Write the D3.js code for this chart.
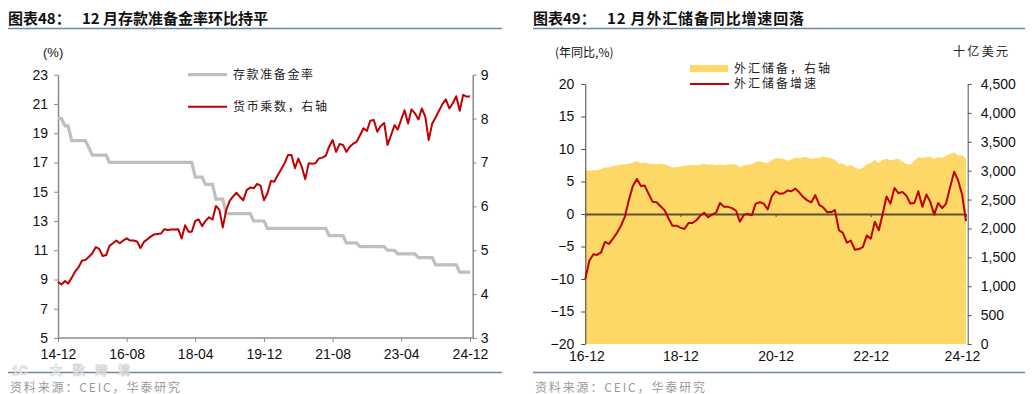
<!DOCTYPE html>
<html>
<head>
<meta charset="utf-8">
<script src="https://cdn.jsdelivr.net/npm/d3@7"></script>
<style>
  body { margin: 0; background: #fff; }
  svg { display: block; }
  text { font-family: "Liberation Sans", Arial, sans-serif; }
  .cn { font-family: "Noto Sans CJK SC", sans-serif; }
</style>
</head>
<body>
<svg id="chart" width="1032" height="394"></svg>
<script>
// ---- chart 48: RRR vs money multiplier, monthly 14-12 .. 24-12
var rrrTicks = ["14-12", "16-08", "18-04", "19-12", "21-08", "23-04", "24-12"];
var rrrLeftTicks = [5, 7, 9, 11, 13, 15, 17, 19, 21, 23];
var rrrRightTicks = [3, 4, 5, 6, 7, 8, 9];

// reserve requirement ratio (%)
var rrr = [20,
  20, 19.5, 19.5, 18.5, 18.5, 18.5, 18.5, 18.5, 18, 17.5, 17.5, 17.5,
  17.5, 17.5, 17, 17, 17, 17, 17, 17, 17, 17, 17, 17,
  17, 17, 17, 17, 17, 17, 17, 17, 17, 17, 17, 17,
  17, 17, 17, 16, 16, 16, 15.5, 15.5, 15.5, 14.5, 14.5, 14.5,
  13.5, 13.5, 13.5, 13.5, 13.5, 13.5, 13.5, 13.5, 13, 13, 13, 13,
  12.5, 12.5, 12.5, 12.5, 12.5, 12.5, 12.5, 12.5, 12.5, 12.5, 12.5, 12.5,
  12.5, 12.5, 12.5, 12.5, 12.5, 12.5, 12, 12, 12, 12, 12, 11.5,
  11.5, 11.5, 11.5, 11.25, 11.25, 11.25, 11.25, 11.25, 11.25, 11.25, 11.25, 11,
  11, 11, 10.75, 10.75, 10.75, 10.75, 10.75, 10.75, 10.5, 10.5, 10.5, 10.5,
  10.5, 10, 10, 10, 10, 10, 10, 10, 9.5, 9.5, 9.5, 9.5];

// money multiplier (right axis)
var multiplier = [4.28,
  4.22, 4.30, 4.24, 4.37, 4.51, 4.61, 4.76, 4.78, 4.85, 4.93, 5.07, 5.03,
  4.87, 4.89, 5.10, 5.16, 5.22, 5.16, 5.22, 5.27, 5.22, 5.22, 5.20, 5.05,
  5.19, 5.25, 5.31, 5.36, 5.37, 5.38, 5.48, 5.46, 5.47, 5.47, 5.48, 5.27,
  5.57, 5.42, 5.42, 5.67, 5.70, 5.55, 5.67, 5.75, 5.70, 6.01, 5.92, 5.52,
  5.92, 6.13, 6.22, 6.31, 6.22, 6.14, 6.37, 6.43, 6.41, 6.51, 6.47, 6.14,
  6.30, 6.58, 6.56, 6.71, 6.84, 6.98, 7.17, 7.17, 6.87, 7.09, 6.90, 6.62,
  6.98, 6.97, 6.98, 7.09, 7.11, 7.15, 7.36, 7.51, 7.24, 7.42, 7.40, 7.24,
  7.36, 7.43, 7.47, 7.62, 7.78, 7.72, 7.95, 7.97, 7.70, 7.83, 7.90, 7.40,
  7.62, 7.85, 7.75, 7.98, 8.19, 7.89, 8.21, 8.12, 7.98, 8.23, 8.04, 7.51,
  7.89, 8.03, 8.18, 8.33, 8.44, 8.23, 8.35, 8.51, 8.18, 8.54, 8.50, 8.51];

// ---- chart 49: FX reserves, monthly 16-12 .. 24-12
var fxTicks = ["16-12", "18-12", "20-12", "22-12", "24-12"];
var fxLeftTicks = [-20, -15, -10, -5, 0, 5, 10, 15, 20];
var fxRightTicks = [0, 500, 1000, 1500, 2000, 2500, 3000, 3500, 4000, 4500];

// FX reserves, billion USD (right axis)
var fxReserve = [3010.5,
  2998.2, 3005.1, 3009.1, 3029.5, 3053.6, 3056.8, 3080.7, 3091.5, 3108.5, 3109.2, 3119.3, 3139.9,
  3161.5, 3134.5, 3142.8, 3124.9, 3110.6, 3112.1, 3117.9, 3109.7, 3087.0, 3053.1, 3061.7, 3072.7,
  3087.9, 3090.2, 3098.8, 3094.9, 3101.0, 3119.2, 3103.7, 3107.2, 3092.4, 3105.2, 3095.6, 3107.9,
  3115.5, 3106.7, 3060.6, 3091.5, 3101.7, 3112.3, 3154.4, 3164.6, 3142.6, 3128.0, 3178.5, 3216.5,
  3210.7, 3205.0, 3170.0, 3198.2, 3221.8, 3214.0, 3235.9, 3232.1, 3200.6, 3217.6, 3222.4, 3250.2,
  3221.6, 3213.8, 3188.0, 3119.7, 3127.8, 3071.3, 3104.1, 3054.9, 3029.0, 3052.4, 3117.5, 3127.7,
  3184.5, 3133.2, 3183.9, 3204.8, 3176.5, 3193.0, 3204.3, 3160.1, 3115.1, 3101.2, 3171.8, 3238.0,
  3219.3, 3225.8, 3245.7, 3200.8, 3232.0, 3222.4, 3256.4, 3288.2, 3316.4, 3261.0, 3265.9, 3202.4];

// FX reserves yoy (%)
var fxGrowth = [-10.0,
  -7.2, -6.2, -6.3, -5.9, -4.3, -4.6, -3.8, -2.9, -1.8, -0.4, 2.2, 4.3,
  5.4, 4.3, 4.4, 3.1, 1.9, 1.8, 1.2, 0.6, -0.7, -1.8, -1.8, -2.1,
  -2.3, -1.4, -1.4, -1.0, -0.3, 0.2, -0.5, -0.1, 0.2, 1.7, 1.1, 1.1,
  0.9, 0.5, -1.2, -0.1, 0.0, -0.2, 1.6, 1.8, 1.6, 0.7, 2.7, 3.5,
  3.1, 3.2, 3.6, 3.5, 3.9, 3.3, 2.6, 2.1, 1.8, 2.9, 1.4, 1.0,
  0.3, 0.3, 0.6, -2.5, -2.9, -4.4, -4.1, -5.5, -5.4, -5.1, -3.3, -3.8,
  -1.2, -2.5, -0.1, 2.7, 1.6, 4.0, 3.2, 3.4, 2.8, 1.6, 1.7, 3.5,
  1.1, 3.0, 1.9, -0.1, 1.7, 0.9, 1.6, 4.1, 6.5, 5.2, 3.0, -1.1];

var parseMonth = d3.timeParse("%y-%m");
var fmtMonth = d3.timeFormat("%y-%m");

var svg = d3.select("#chart");
svg.append("rect").attr("width", 1032).attr("height", 394).attr("fill", "#fff");

// header / footer frame for one panel
function frame(x0, x1, titleA, titleB, titleLen) {
  svg.append("text").attr("class", "cn")
    .attr("x", x0).attr("y", 24)
    .style("font-size", "15px").style("font-weight", "bold").attr("fill", "#111")
    .text(titleA);
  svg.append("text").attr("class", "cn")
    .attr("x", x0 + 74).attr("y", 24)
    .attr("textLength", titleLen).attr("lengthAdjust", "spacing")
    .style("font-size", "15px").style("font-weight", "bold").attr("fill", "#111")
    .text(titleB);
  svg.append("line").attr("x1", x0).attr("x2", x1).attr("y1", 28.5).attr("y2", 28.5)
    .attr("stroke", "#6e88a6").attr("stroke-width", 1.3);
  svg.append("line").attr("x1", x0).attr("x2", x1).attr("y1", 372.5).attr("y2", 372.5)
    .attr("stroke", "#6e88a6").attr("stroke-width", 1.3);
  svg.append("text").attr("class", "cn")
    .attr("x", x0 + 2).attr("y", 392)
    .attr("textLength", 170).attr("lengthAdjust", "spacing")
    .style("font-size", "12px").attr("fill", "#9a9a9a")
    .text("资料来源：CEIC，华泰研究");
}

function styleAxis(g, color, size) {
  g.selectAll("path,line").attr("stroke", color);
  g.selectAll("text").attr("fill", "#111").style("font-size", size || "14px")
    .style("font-family", "'Liberation Sans', Arial, sans-serif");
}

// =================== chart 48 ===================
frame(8, 502, "图表48：", "12 月存款准备金率环比持平", 186);

var dates1 = d3.timeMonth.range(new Date(2014, 11, 1), new Date(2025, 0, 1));
var x1 = d3.scaleTime().domain([dates1[0], dates1[dates1.length - 1]]).range([58, 470]);
var yL1 = d3.scaleLinear().domain([5, 23]).range([338, 74.7]);
var yR1 = d3.scaleLinear().domain([3, 9]).range([338, 74.7]);
var axisGray = "#8a8a8a";

var gl = svg.append("g").attr("transform", "translate(58,0)")
  .call(d3.axisLeft(yL1).tickValues(rrrLeftTicks).tickSize(4).tickSizeOuter(0).tickPadding(6));
styleAxis(gl, axisGray);
gl.select(".domain").attr("stroke-width", 1.5);

var gr = svg.append("g").attr("transform", "translate(472.7,0)")
  .call(d3.axisRight(yR1).tickValues(rrrRightTicks).tickFormat(d3.format("d"))
    .tickSize(4).tickSizeOuter(0).tickPadding(4));
styleAxis(gr, axisGray);
gr.select(".domain").attr("stroke-width", 1.5);

var gb = svg.append("g").attr("transform", "translate(0,338)")
  .call(d3.axisBottom(x1).tickValues(rrrTicks.map(parseMonth)).tickFormat(fmtMonth)
    .tickSize(4).tickSizeOuter(0).tickPadding(7));
styleAxis(gb, axisGray);
gb.select(".domain").remove();
svg.append("line").attr("x1", 58).attr("x2", 472.7).attr("y1", 338).attr("y2", 338)
  .attr("stroke", axisGray).attr("stroke-width", 1.5);

svg.append("text").attr("x", 43).attr("y", 57).style("font-size", "13px").attr("fill", "#111").text("(%)");

svg.append("path").datum(rrr)
  .attr("fill", "none").attr("stroke", "#bfbfbf").attr("stroke-width", 3.2)
  .attr("d", d3.line().x(function(d, i) { return x1(dates1[i]); }).y(function(d) { return yL1(d); }));

svg.append("path").datum(multiplier)
  .attr("fill", "none").attr("stroke", "#c00000").attr("stroke-width", 2)
  .attr("stroke-linejoin", "round")
  .attr("d", d3.line().x(function(d, i) { return x1(dates1[i]); }).y(function(d) { return yR1(d); }));

// legend
svg.append("line").attr("x1", 188).attr("x2", 227).attr("y1", 74.7).attr("y2", 74.7)
  .attr("stroke", "#bfbfbf").attr("stroke-width", 3.2);
svg.append("text").attr("class", "cn").attr("x", 233).attr("y", 79)
  .attr("textLength", 80).attr("lengthAdjust", "spacing")
  .style("font-size", "12px").attr("fill", "#222").text("存款准备金率");
svg.append("line").attr("x1", 188).attr("x2", 227).attr("y1", 106.7).attr("y2", 106.7)
  .attr("stroke", "#c00000").attr("stroke-width", 2);
svg.append("text").attr("class", "cn").attr("x", 233).attr("y", 111)
  .attr("textLength", 94).attr("lengthAdjust", "spacing")
  .style("font-size", "12px").attr("fill", "#222").text("货币乘数，右轴");

// watermark, squeezed between the month labels and the source line
svg.append("text").attr("class", "cn").attr("x", 50).attr("y", 375)
  .attr("textLength", 80).attr("lengthAdjust", "spacing")
  .style("font-size", "12px").style("font-weight", "bold")
  .attr("fill", "#fff").attr("stroke", "#cfcfcf").attr("stroke-width", 0.8)
  .attr("opacity", 0.85).text("大数跨境");
svg.append("text").attr("x", 12).attr("y", 375)
  .style("font-size", "12px").style("font-weight", "bold")
  .attr("fill", "#fff").attr("stroke", "#cfcfcf").attr("stroke-width", 0.8)
  .attr("opacity", 0.85).text("1C");

// =================== chart 49 ===================
frame(533, 1025, "图表49：", "12 月外汇储备同比增速回落", 197);

var dates2 = d3.timeMonth.range(new Date(2016, 11, 1), new Date(2025, 0, 1));
var x2 = d3.scaleTime().domain([dates2[0], dates2[dates2.length - 1]]).range([585.3, 966]);
var yL2 = d3.scaleLinear().domain([-20, 20]).range([344, 84]);
var yR2 = d3.scaleLinear().domain([0, 4500]).range([344, 84]);

svg.append("path").datum(fxReserve)
  .attr("fill", "#fdd867")
  .attr("d", d3.area()
    .x(function(d, i) { return x2(dates2[i]); })
    .y0(yR2(0))
    .y1(function(d) { return yR2(d); }));

var gl2 = svg.append("g").attr("transform", "translate(585.3,0)")
  .call(d3.axisLeft(yL2).tickValues(fxLeftTicks).tickSize(4).tickSizeOuter(0).tickPadding(7));
styleAxis(gl2, "#444");

var gr2 = svg.append("g").attr("transform", "translate(967.7,0)")
  .call(d3.axisRight(yR2).tickValues(fxRightTicks).tickFormat(d3.format(",")).tickSize(4).tickSizeOuter(0).tickPadding(9));
styleAxis(gr2, "#555");

// zero line with small ticks
var gz = svg.append("g").attr("transform", "translate(0," + yL2(0) + ")")
  .call(d3.axisBottom(x2).tickValues(fxTicks.map(parseMonth)).tickFormat("").tickSize(3).tickSizeOuter(0));
gz.selectAll("line").attr("stroke", "#5a5434");
gz.select(".domain").attr("stroke", "#5a5434").attr("stroke-width", 2);

var gb2 = svg.append("g").attr("transform", "translate(0,344)")
  .call(d3.axisBottom(x2).tickValues(fxTicks.map(parseMonth)).tickFormat(fmtMonth).tickSize(0).tickPadding(7));
styleAxis(gb2, "#444");
gb2.select(".domain").remove();
// nudge first label off the "-20" and last one off the "0"
gb2.selectAll(".tick text").attr("dx", function(d, i, all) {
  if (i === 0) return 1;
  if (i === all.length - 1) return -4;
  return 0;
});

svg.append("path").datum(fxGrowth)
  .attr("fill", "none").attr("stroke", "#c00000").attr("stroke-width", 2)
  .attr("stroke-linejoin", "round")
  .attr("d", d3.line().x(function(d, i) { return x2(dates2[i]); }).y(function(d) { return yL2(d); }));

svg.append("text").attr("class", "cn").attr("x", 555).attr("y", 57)
  .style("font-size", "12px").attr("fill", "#111").text("(年同比,%)");
svg.append("text").attr("class", "cn").attr("x", 953).attr("y", 56)
  .attr("textLength", 55).attr("lengthAdjust", "spacing")
  .style("font-size", "12px").attr("fill", "#222").text("十亿美元");

// legend
svg.append("rect").attr("x", 690).attr("y", 65).attr("width", 38).attr("height", 7)
  .attr("fill", "#fdd867");
svg.append("text").attr("class", "cn").attr("x", 734).attr("y", 73)
  .attr("textLength", 96).attr("lengthAdjust", "spacing")
  .style("font-size", "12px").attr("fill", "#222").text("外汇储备，右轴");
svg.append("line").attr("x1", 690).attr("x2", 729).attr("y1", 84).attr("y2", 84)
  .attr("stroke", "#c00000").attr("stroke-width", 2);
svg.append("text").attr("class", "cn").attr("x", 734).attr("y", 88)
  .attr("textLength", 82).attr("lengthAdjust", "spacing")
  .style("font-size", "12px").attr("fill", "#222").text("外汇储备增速");
</script>
</body>
</html>
